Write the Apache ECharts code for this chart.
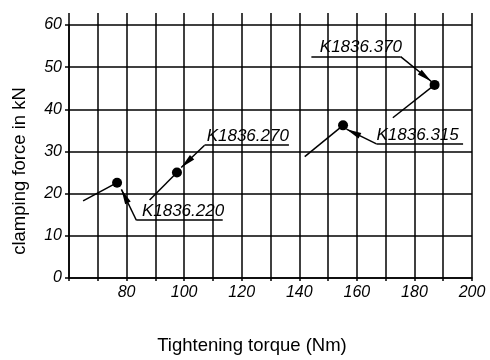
<!DOCTYPE html>
<html>
<head>
<meta charset="utf-8">
<script src="https://cdn.jsdelivr.net/npm/echarts@6/dist/echarts.min.js"></script>
<style>
  html, body { margin: 0; background: #fff; }
  #chart { width: 490px; height: 360px; }
</style>
</head>
<body>
<div id="chart"></div>
<script>
// clamp types and their curves (torque Nm -> force kN)
const productNames = ['K1836.220', 'K1836.270', 'K1836.315', 'K1836.370'];
const lineStartX = [64.9, 88.0, 141.9, 172.5];
const lineStartY = [18.3, 18.5, 28.8, 38.0];
const pointX = [76.7, 97.5, 155.2, 187.0];
const pointY = [22.6, 25.0, 36.2, 45.8];

// callouts: underline end -> bend -> arrow tip at the point
const underlineEndX = [113.4, 136.4, 196.9, 144.2];
const leaderBendX = [83.4, 107.1, 166.8, 175.2];
const leaderBendY = [13.7, 31.5, 31.8, 52.5];
const arrowTipX = [78.2, 99.0, 156.4, 185.9];
const arrowTipY = [21.0, 26.2, 35.3, 46.6];
const labelX = [85.5, 108.0, 167.0, 147.3];

const xMin = 60, xMax = 200, xStep = 10;
const yMin = 0, yMax = 60, yStep = 10;

const ink = '#000';
const font = "'Liberation Sans', Arial, Helvetica, sans-serif";
// slim arrow head, tip at the centre of a square box
const arrowPath = 'path://M-15,-15 M15,15 M0,0 L3.1,15 L-3.1,15 Z';

const chart = echarts.init(document.getElementById('chart'));

const curveSeries = productNames.map((name, i) => ({
  name, type: 'line', xAxisIndex: 0, yAxisIndex: 0,
  symbol: 'circle', symbolSize: 10, showSymbol: true,
  data: [
    { value: [lineStartX[i], lineStartY[i]], symbol: 'none' },
    [pointX[i], pointY[i]],
  ],
  lineStyle: { color: ink, width: 1.5 },
  itemStyle: { color: ink },
  z: 4,
}));

chart.setOption({
  animation: false,
  backgroundColor: '#fff',
  grid: [
    { left: 69, right: 18, top: 25, bottom: 81 },
    { left: 69, right: 18, top: 13, height: 12 },
  ],
  xAxis: [
    {
      type: 'value', gridIndex: 0, min: xMin, max: xMax, interval: xStep,
      name: 'Tightening torque (Nm)', nameLocation: 'middle', nameGap: 58,
      nameTextStyle: { color: ink, fontSize: 18.5, fontFamily: font, padding: [0, 37, 0, 0] },
      axisLine: { lineStyle: { color: ink, width: 1.5 } },
      axisTick: { show: true, length: 3, lineStyle: { color: ink, width: 1.5 } },
      axisLabel: {
        color: ink, fontSize: 16, fontStyle: 'italic', fontFamily: font, margin: 7,
        formatter: v => (v % 20 === 0 && v > xMin) ? String(v) : '',
      },
      splitLine: { lineStyle: { color: ink, width: 1.5 } },
    },
    {
      type: 'value', gridIndex: 1, min: xMin, max: xMax, interval: xStep,
      axisLine: { show: false }, axisTick: { show: false }, axisLabel: { show: false },
      splitLine: { lineStyle: { color: ink, width: 1.5 } },
    },
  ],
  yAxis: [
    {
      type: 'value', gridIndex: 0, min: yMin, max: yMax, interval: yStep,
      name: 'clamping force in kN', nameLocation: 'middle', nameGap: 40,
      nameTextStyle: { color: ink, fontSize: 18.5, fontFamily: font, padding: [0, 39, 0, 0] },
      axisLine: { show: true, lineStyle: { color: ink, width: 1.5 } },
      axisTick: { show: true, length: 4, lineStyle: { color: ink, width: 1.5 } },
      axisLabel: { color: ink, fontSize: 16, fontStyle: 'italic', fontFamily: font, margin: 7 },
      splitLine: { lineStyle: { color: ink, width: 1.5 } },
    },
    { type: 'value', gridIndex: 1, min: 0, max: 1, show: false },
  ],
  series: [
    ...curveSeries,
    {
      type: 'lines', coordinateSystem: 'cartesian2d', xAxisIndex: 0, yAxisIndex: 0,
      symbol: 'none', silent: true, z: 3,
      lineStyle: { color: ink, width: 1.5, opacity: 1, curveness: 0 },
      data: productNames.map((n, i) => ({
        coords: [[underlineEndX[i], leaderBendY[i]], [leaderBendX[i], leaderBendY[i]]],
      })),
    },
    {
      type: 'lines', coordinateSystem: 'cartesian2d', xAxisIndex: 0, yAxisIndex: 0,
      symbol: ['none', arrowPath], symbolSize: 30, silent: true, z: 3,
      lineStyle: { color: ink, width: 1.5, opacity: 1, curveness: 0 },
      data: productNames.map((n, i) => ({
        coords: [[leaderBendX[i], leaderBendY[i]], [arrowTipX[i], arrowTipY[i]]],
      })),
    },
    {
      type: 'scatter', xAxisIndex: 0, yAxisIndex: 0, silent: true, z: 5,
      symbolSize: 1, itemStyle: { color: 'rgba(0,0,0,0)', opacity: 1 },
      data: productNames.map((n, i) => [labelX[i], leaderBendY[i]]),
      label: {
        show: true, position: [0, 0], align: 'left', verticalAlign: 'bottom',
        formatter: p => productNames[p.dataIndex], opacity: 1,
        color: ink, fontSize: 17, fontStyle: 'italic', fontFamily: font,
      },
    },
  ],
});
</script>
</body>
</html>
